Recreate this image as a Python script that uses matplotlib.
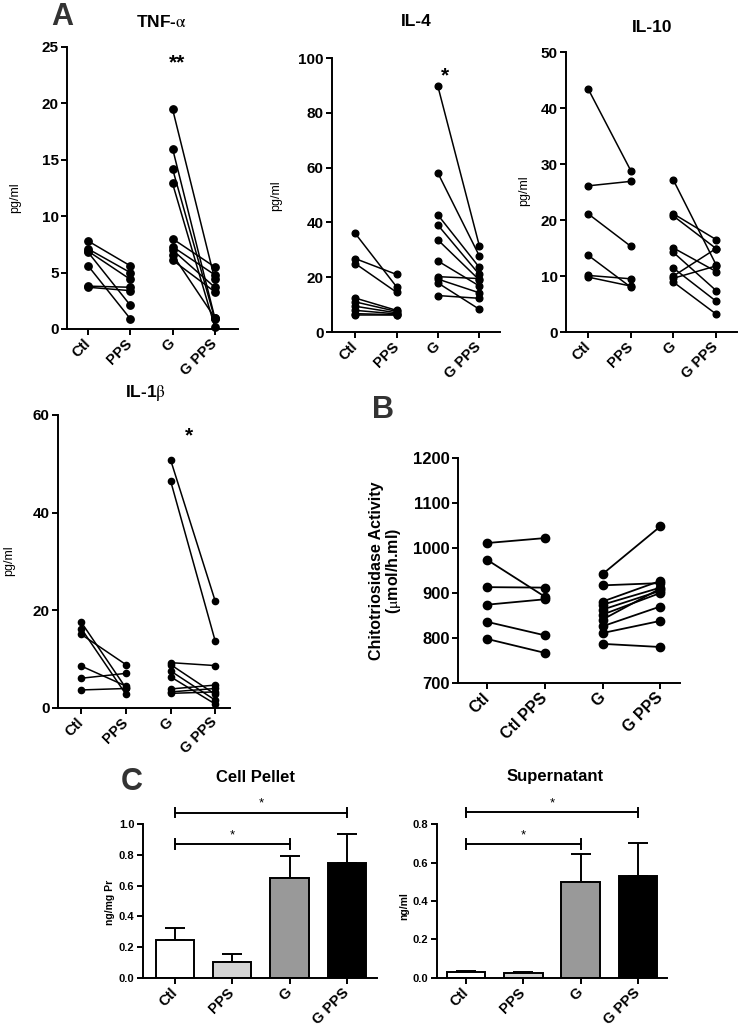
import matplotlib.pyplot as plt

plt.rcParams['font.family'] = ['Liberation Sans', 'DejaVu Sans']
plt.rcParams['mathtext.fontset'] = 'stix'

W, H = 739, 1028

groups_a = ['Ctl', 'PPS', 'G', 'G PPS']
groups_b = ['Ctl', 'Ctl PPS', 'G', 'G PPS']

# A: paired cytokine values (pg/ml), first -> second of each pair
tnf_ctl = [7.8, 7.1, 6.9, 6.8, 5.6, 3.8, 3.7]
tnf_pps = [5.6, 5.0, 4.4, 2.1, 0.9, 3.7, 3.4]
tnf_g = [19.5, 16.0, 14.2, 12.9, 8.0, 7.3, 7.0, 6.6, 6.1]
tnf_gpps = [4.4, 1.0, 0.9, 0.2, 5.5, 4.8, 3.7, 1.0, 3.3]

il4_ctl = [36.0, 26.8, 25.0, 12.4, 11.0, 9.4, 7.9, 6.7, 6.1]
il4_pps = [16.5, 21.0, 14.5, 7.9, 7.5, 7.0, 6.6, 6.3, 6.1]
il4_g = [89.6, 58.0, 42.7, 39.0, 33.6, 25.9, 20.2, 19.3, 17.9, 13.3]
il4_gpps = [31.5, 27.8, 23.6, 21.0, 19.0, 16.8, 19.5, 14.3, 8.3, 12.3]

il10_ctl = [43.4, 26.1, 21.1, 13.7, 10.1, 9.8]
il10_pps = [28.8, 26.9, 15.3, 8.0, 9.5, 8.2]
il10_g = [27.1, 21.1, 20.7, 15.0, 14.2, 11.4, 10.0, 9.6, 8.9]
il10_gpps = [12.0, 16.5, 14.9, 10.8, 7.4, 5.5, 14.9, 11.8, 3.2]

il1b_ctl = [17.5, 16.2, 15.0, 8.5, 6.0, 3.6]
il1b_pps = [4.0, 2.7, 8.8, 4.4, 7.0, 3.9]
il1b_g = [50.8, 46.5, 9.2, 8.8, 7.5, 6.3, 3.8, 3.2, 2.9]
il1b_gpps = [21.8, 13.6, 8.6, 2.7, 1.5, 0.7, 4.6, 3.9, 3.2]

# B: chitotriosidase activity
chit_ctl = [1011, 974, 913, 874, 836, 798]
chit_ctlpps = [1022, 892, 912, 886, 806, 767]
chit_g = [942, 917, 881, 874, 863, 852, 841, 826, 811, 787]
chit_gpps = [1048, 922, 927, 912, 905, 900, 910, 870, 838, 780]

# C: bar means and upper SEM
pellet_mean = [0.245, 0.10, 0.648, 0.746]
pellet_err = [0.081, 0.052, 0.145, 0.19]
super_mean = [0.028, 0.027, 0.497, 0.532]
super_err = [0.005, 0.004, 0.146, 0.172]
bar_colors = ['white', '#d4d4d4', '#999999', 'black']

fig = plt.figure(figsize=(W / 100, H / 100), dpi=100)


def rect(l, t, r, b):
    return [l / W, 1 - b / H, (r - l) / W, (b - t) / H]


def ftext(x, y, s, **kw):
    fig.text(x / W, 1 - y / H, s, **kw)


def prism(ax, xlim, ylim, yticks, ylabels, xlabels, fs=11, xfs=10.5):
    ax.spines[['top', 'right']].set_visible(False)
    ax.spines['left'].set_linewidth(1.4)
    ax.spines['bottom'].set_linewidth(1.4)
    ax.set_xlim(*xlim)
    ax.set_ylim(*ylim)
    ax.tick_params(width=1.4, length=4, pad=2)
    ax.set_yticks(yticks, labels=ylabels, fontsize=fs, fontweight='bold')
    ax.set_xticks(range(4), labels=xlabels, fontsize=xfs, fontweight='bold',
                  rotation=45, ha='right', va='center', rotation_mode='anchor')
    ax.tick_params(axis='x', pad=5)


def pair_panel(r, data, xlim, ylim, yticks, xlabels, ms, lw=1.1, fs=11, xfs=10.5):
    ax = fig.add_axes(r)
    for i, (first, second) in enumerate(data):
        x0 = 2 * i
        for a, b in zip(first, second):
            ax.plot([x0, x0 + 1], [a, b], '-o', color='black', lw=lw, ms=ms,
                    clip_on=False, zorder=3)
    prism(ax, xlim, ylim, yticks, [str(t) for t in yticks], xlabels, fs, xfs)
    return ax


# Panel A
ax_tnf = pair_panel(rect(67, 47, 238, 329), [(tnf_ctl, tnf_pps), (tnf_g, tnf_gpps)],
                    (-0.5, 3.55), (0, 25), [0, 5, 10, 15, 20, 25], groups_a, 5.3)
ax_tnf.text(2.1, 23.6, '**', ha='center', va='center', fontsize=15, fontweight='bold')

ax_il4 = pair_panel(rect(332, 58, 500, 332), [(il4_ctl, il4_pps), (il4_g, il4_gpps)],
                    (-0.56, 3.5), (0, 100), [0, 20, 40, 60, 80, 100], groups_a, 4.8)
ax_il4.text(2.18, 93.6, '*', ha='center', va='center', fontsize=15, fontweight='bold')

ax_il10 = pair_panel(rect(566, 52, 737, 332), [(il10_ctl, il10_pps), (il10_g, il10_gpps)],
                     (-0.52, 3.49), (0, 50), [0, 10, 20, 30, 40, 50], groups_a, 4.8)

ax_il1 = pair_panel(rect(58, 415, 230, 707.5), [(il1b_ctl, il1b_pps), (il1b_g, il1b_gpps)],
                    (-0.52, 3.33), (0, 60), [0, 20, 40, 60], groups_a, 4.5)
ax_il1.text(2.41, 55.7, '*', ha='center', va='center', fontsize=15, fontweight='bold')

ftext(161, 22, r'TNF-$\mathrm{\alpha}$', ha='center', va='center', fontsize=12.5, fontweight='bold')
ftext(416, 22, 'IL-4', ha='center', va='center', fontsize=12.5, fontweight='bold')
ftext(652, 27, 'IL-10', ha='center', va='center', fontsize=12.5, fontweight='bold')
ftext(146, 393, r'IL-1$\mathrm{\beta}$', ha='center', va='center', fontsize=12.5, fontweight='bold')
for x, y in [(15, 198), (276, 196), (524, 191), (9, 561)]:
    ftext(x, y, 'pg/ml', ha='center', va='center', rotation=90, fontsize=9)

# Panel B
ax_b = pair_panel(rect(458, 458, 680, 683), [(chit_ctl, chit_ctlpps), (chit_g, chit_gpps)],
                  (-0.5, 3.34), (700, 1200), [700, 800, 900, 1000, 1100, 1200], groups_b,
                  6, lw=1.3, fs=12, xfs=11.5)
ftext(386, 571, 'Chitotriosidase Activity\n(' + r'$\mathrm{\mu}$' + 'mol/h.ml)',
      ha='center', va='center', rotation=90, fontsize=11.5, fontweight='bold',
      multialignment='center', linespacing=1.05)


# Panel C
def bar_panel(r, means, errs, ylim, yticks, brackets, xlim):
    ax = fig.add_axes(r)
    x = list(range(len(means)))
    ax.bar(x, means, width=0.67, color=bar_colors, edgecolor='black', lw=1.4, zorder=2)
    ax.errorbar(x, means, yerr=[[0] * len(errs), errs], fmt='none', ecolor='black',
                elinewidth=1.4, capsize=7, capthick=1.4, zorder=1)
    prism(ax, xlim, ylim, yticks, ['%.1f' % t for t in yticks], groups_a, fs=8, xfs=10.5)
    d = (ylim[1] - ylim[0]) * 0.03
    for end, level in brackets:
        ax.plot([0, end], [level, level], color='black', lw=1.4, clip_on=False)
        ax.plot([0, 0], [level - d, level + d], color='black', lw=1.4, clip_on=False)
        ax.plot([end, end], [level - d, level + d], color='black', lw=1.4, clip_on=False)
        ax.text(end / 2, level + d * 0.6, '*', ha='center', va='bottom', fontsize=9.5)
    return ax


bar_panel(rect(142.7, 824.3, 376.7, 977.7), pellet_mean, pellet_err, (0, 1.0),
          [0.0, 0.2, 0.4, 0.6, 0.8, 1.0], [(3, 1.076), (2, 0.872)], (-0.56, 3.52))
bar_panel(rect(436.7, 824.3, 666.7, 977.7), super_mean, super_err, (0, 0.8),
          [0.0, 0.2, 0.4, 0.6, 0.8], [(3, 0.863), (2, 0.697)], (-0.51, 3.5))

ftext(256, 777, 'Cell Pellet', ha='center', va='center', fontsize=12, fontweight='bold')
ftext(555, 777, 'Supernatant', ha='center', va='center', fontsize=12, fontweight='bold')
ftext(110, 902, 'ng/mg Pr', ha='center', va='center', rotation=90, fontsize=7.5, fontweight='bold')
ftext(404, 906, 'ng/ml', ha='center', va='center', rotation=90, fontsize=7.5, fontweight='bold')

# panel letters
for x, y, s in [(62, 17, 'A'), (383, 410, 'B'), (132, 782, 'C')]:
    ftext(x, y, s, ha='center', va='center', fontsize=22, fontweight='bold', color='#333333')

fig.savefig('out.png', dpi=100)
